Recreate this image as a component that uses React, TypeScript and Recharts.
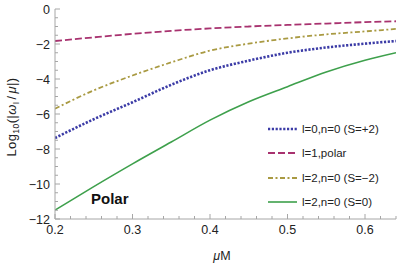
import React from 'react';
import { LineChart, Line, XAxis, YAxis } from 'recharts';

const muM = [0.2, 0.25, 0.3, 0.35, 0.4, 0.45, 0.5, 0.55, 0.6, 0.64];
const l0n0Sp2 = [-7.37, -6.3, -5.33, -4.33, -3.5, -2.95, -2.5, -2.2, -1.98, -1.83];
const l1polar = [-1.83, -1.62, -1.42, -1.25, -1.11, -1.0, -0.91, -0.83, -0.75, -0.7];
const l2n0Sm2 = [-5.7, -4.65, -3.8, -3.05, -2.38, -1.98, -1.68, -1.45, -1.28, -1.14];
const l2n0S0 = [-11.49, -10.15, -8.85, -7.6, -6.35, -5.3, -4.44, -3.6, -2.93, -2.5];

const seriesNames = ['l=0,n=0 (S=+2)', 'l=1,polar', 'l=2,n=0 (S=\u22122)', 'l=2,n=0 (S=0)'];
const xTicks = [0.2, 0.22, 0.24, 0.26, 0.28, 0.3, 0.32, 0.34, 0.36, 0.38, 0.4, 0.42, 0.44, 0.46, 0.48, 0.5, 0.52, 0.54, 0.56, 0.58, 0.6, 0.62, 0.64];
const xMajor = [0.2, 0.3, 0.4, 0.5, 0.6];
const yTicks = [-12, -11.5, -11, -10.5, -10, -9.5, -9, -8.5, -8, -7.5, -7, -6.5, -6, -5.5, -5, -4.5, -4, -3.5, -3, -2.5, -2, -1.5, -1, -0.5, 0];
const yMajor = [-12, -10, -8, -6, -4, -2, 0];

const data = muM.map((x, i) => ({
  x,
  a: l0n0Sp2[i],
  b: l1polar[i],
  c: l2n0Sm2[i],
  d: l2n0S0[i],
}));

const FONT = '"Liberation Sans", Arial, Helvetica, sans-serif';
const FRAME = '#a6a6a6';
const TEXT = '#222';

const styles = [
  { key: 'a', color: '#3b3ba6', width: 2.6, dash: '2.2 1.6' },
  { key: 'b', color: '#a8326f', width: 1.8, dash: '7 3' },
  { key: 'c', color: '#a99a42', width: 1.8, dash: '5 2.5 2 2.5' },
  { key: 'd', color: '#3ea04c', width: 1.6, dash: undefined as string | undefined },
];

const isMajor = (v: number, list: number[]) => list.some((m) => Math.abs(m - v) < 1e-6);

const fmtY = (v: number) => (v < 0 ? '\u2212' + Math.abs(v) : String(v));

const XTick = (props: any) => {
  const { x, y, payload, orientation } = props;
  const v = payload.value;
  const major = isMajor(v, xMajor);
  const len = major ? 5 : 3;
  const dir = orientation === 'top' ? 1 : -1;
  return (
    <g>
      <line x1={x} x2={x} y1={y} y2={y + dir * len} stroke={FRAME} strokeWidth={1} />
      {major && orientation !== 'top' ? (
        <text x={x} y={y + 15} textAnchor="middle" fontSize={12.5} fontFamily={FONT} fill={TEXT}>
          {String(v)}
        </text>
      ) : null}
    </g>
  );
};

const YTick = (props: any) => {
  const { x, y, payload, orientation } = props;
  const v = payload.value;
  const major = isMajor(v, yMajor);
  const len = major ? 5 : 3;
  const dir = orientation === 'right' ? -1 : 1;
  return (
    <g>
      <line x1={x} x2={x + dir * len} y1={y} y2={y} stroke={FRAME} strokeWidth={1} />
      {major && orientation !== 'right' ? (
        <text x={x - 5} y={y + 4.5} textAnchor="end" fontSize={12.5} fontFamily={FONT} fill={TEXT}>
          {fmtY(v)}
        </text>
      ) : null}
    </g>
  );
};

const YLabel = () => (
  <text
    transform="translate(16,117) rotate(-90)"
    textAnchor="middle"
    fontSize={13}
    letterSpacing={0.4}
    fontFamily={FONT}
    fill={TEXT}
  >
    <tspan>Log</tspan>
    <tspan fontSize={8.5} dy={3}>10</tspan>
    <tspan dy={-3}>(|</tspan>
    <tspan fontStyle="italic">ω</tspan>
    <tspan fontSize={8.5} dy={3}>I</tspan>
    <tspan dy={-3} dx={2}>/</tspan>
    <tspan fontStyle="italic" dx={2}>μ</tspan>
    <tspan>|)</tspan>
  </text>
);

const XLabel = () => (
  <text x={222} y={260} textAnchor="middle" fontSize={12.5} fontFamily={FONT} fill={TEXT}>
    <tspan fontStyle="italic">μ</tspan>
    <tspan>M</tspan>
  </text>
);

const LegendBox = () => (
  <div style={{ position: 'absolute', left: 266, top: 117, fontFamily: FONT, fontSize: 11.5, color: TEXT }}>
    {styles.map((s, i) => (
      <div key={s.key} style={{ display: 'flex', alignItems: 'center', height: 24.3 }}>
        <svg width={34} height={10} style={{ display: 'block' }}>
          <line x1={2} x2={31} y1={5} y2={5} stroke={s.color} strokeWidth={s.width} strokeDasharray={s.dash} />
        </svg>
        <span style={{ marginLeft: 2, whiteSpace: 'nowrap' }}>{seriesNames[i]}</span>
      </div>
    ))}
  </div>
);

export default function App() {
  return (
    <div style={{ position: 'absolute', left: 0, top: 0, width: 398, height: 266, background: '#fff' }}>
      <LineChart width={398} height={266} data={data} margin={{ top: 9, right: 2, bottom: 0, left: 0 }}>
        <XAxis
          xAxisId="bottom"
          dataKey="x"
          type="number"
          domain={[0.2, 0.64]}
          ticks={xTicks}
          interval={0}
          allowDataOverflow
          height={47}
          tickSize={0}
          tickMargin={0}
          tickLine={false}
          axisLine={{ stroke: FRAME }}
          tick={(p: any) => <XTick {...p} orientation="bottom" />}
          label={{ content: () => <XLabel /> }}
        />
        <XAxis
          xAxisId="top"
          orientation="top"
          dataKey="x"
          type="number"
          domain={[0.2, 0.64]}
          ticks={xTicks}
          interval={0}
          allowDataOverflow
          height={0}
          tickSize={0}
          tickMargin={0}
          tickLine={false}
          axisLine={{ stroke: FRAME }}
          tick={(p: any) => <XTick {...p} orientation="top" />}
        />
        <YAxis
          yAxisId="left"
          type="number"
          domain={[-12, 0]}
          ticks={yTicks}
          interval={0}
          allowDataOverflow
          width={55}
          tickSize={0}
          tickMargin={0}
          tickLine={false}
          axisLine={{ stroke: FRAME }}
          tick={(p: any) => <YTick {...p} orientation="left" />}
          label={{ content: () => <YLabel /> }}
        />
        <YAxis
          yAxisId="right"
          orientation="right"
          type="number"
          domain={[-12, 0]}
          ticks={yTicks}
          interval={0}
          allowDataOverflow
          width={0}
          tickSize={0}
          tickMargin={0}
          tickLine={false}
          axisLine={{ stroke: FRAME }}
          tick={(p: any) => <YTick {...p} orientation="right" />}
        />
        {styles.map((s, i) => (
          <Line
            key={s.key}
            xAxisId="bottom"
            yAxisId="left"
            type="monotone"
            dataKey={s.key}
            name={seriesNames[i]}
            stroke={s.color}
            strokeWidth={s.width}
            strokeDasharray={s.dash}
            dot={false}
            activeDot={false}
            isAnimationActive={false}
          />
        ))}
      </LineChart>
      <LegendBox />
      <div
        style={{
          position: 'absolute',
          left: 91,
          top: 190,
          fontFamily: FONT,
          fontWeight: 'bold',
          fontSize: 15,
          color: '#111',
        }}
      >
        Polar
      </div>
    </div>
  );
}
